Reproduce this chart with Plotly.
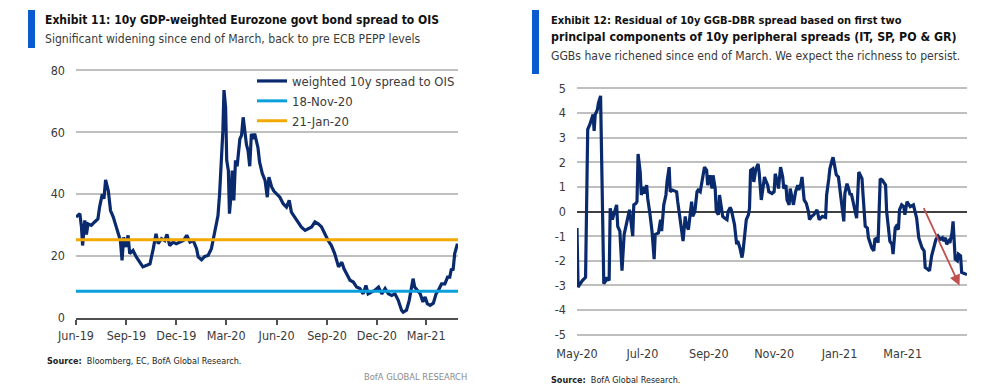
import plotly.graph_objects as go

# ---------------- Exhibit 11 data ----------------
ex11_dates = [
    "2019-06-01", "2019-06-08", "2019-06-11", "2019-06-13", "2019-06-17", "2019-06-20", "2019-06-23", "2019-06-29",
    "2019-07-05", "2019-07-11", "2019-07-14", "2019-07-19", "2019-07-22", "2019-07-25", "2019-07-30", "2019-08-03",
    "2019-08-08", "2019-08-14", "2019-08-19", "2019-08-21", "2019-08-24", "2019-08-27", "2019-08-31", "2019-09-04",
    "2019-09-07", "2019-09-13", "2019-09-19", "2019-09-25", "2019-10-01", "2019-10-08", "2019-10-14", "2019-10-20",
    "2019-10-25", "2019-10-29", "2019-11-04", "2019-11-10", "2019-11-14", "2019-11-19", "2019-11-25", "2019-12-01",
    "2019-12-07", "2019-12-14", "2019-12-20", "2019-12-26", "2020-01-01", "2020-01-07", "2020-01-10", "2020-01-16",
    "2020-01-22", "2020-01-28", "2020-02-03", "2020-02-07", "2020-02-12", "2020-02-15", "2020-02-18", "2020-02-21",
    "2020-02-24", "2020-02-26", "2020-02-29", "2020-03-02", "2020-03-05", "2020-03-07", "2020-03-10", "2020-03-12",
    "2020-03-15", "2020-03-18", "2020-03-21", "2020-03-26", "2020-03-29", "2020-04-01", "2020-04-04", "2020-04-07",
    "2020-04-10", "2020-04-13", "2020-04-16", "2020-04-19", "2020-04-22", "2020-04-25", "2020-04-28", "2020-05-01",
    "2020-05-06", "2020-05-11", "2020-05-15", "2020-05-18", "2020-05-23", "2020-05-27", "2020-06-01", "2020-06-07",
    "2020-06-13", "2020-06-19", "2020-06-24", "2020-06-28", "2020-07-04", "2020-07-10", "2020-07-16", "2020-07-23",
    "2020-07-29", "2020-08-04", "2020-08-10", "2020-08-16", "2020-08-22", "2020-08-28", "2020-09-03", "2020-09-09",
    "2020-09-15", "2020-09-22", "2020-09-28", "2020-10-02", "2020-10-07", "2020-10-13", "2020-10-19", "2020-10-25",
    "2020-10-31", "2020-11-06", "2020-11-11", "2020-11-15", "2020-11-21", "2020-11-27", "2020-12-04", "2020-12-10",
    "2020-12-16", "2020-12-22", "2020-12-28", "2021-01-03", "2021-01-09", "2021-01-15", "2021-01-18", "2021-01-24",
    "2021-01-29", "2021-02-02", "2021-02-05", "2021-02-08", "2021-02-13", "2021-02-18", "2021-02-23", "2021-02-27",
    "2021-03-03", "2021-03-08", "2021-03-14", "2021-03-19", "2021-03-23", "2021-03-29", "2021-04-04", "2021-04-09",
    "2021-04-13", "2021-04-16", "2021-04-19", "2021-04-22", "2021-04-27",
]
ex11_spread = [
    32.6, 33.7, 29.4, 23.4, 31.5, 27.0, 30.4, 29.9,
    31.0, 32.0, 35.8, 40.0, 38.5, 44.6, 41.0, 34.7,
    32.6, 29.4, 26.0, 25.0, 18.6, 26.0, 22.9, 26.7,
    20.8, 21.8, 19.7, 18.0, 16.5, 17.0, 17.5, 22.4,
    27.2, 24.0, 25.6, 25.0, 27.0, 23.4, 24.5, 24.0,
    24.5, 25.0, 26.7, 24.5, 25.0, 22.4, 19.7, 18.8,
    19.9, 20.2, 22.4, 26.0, 30.0, 33.0, 40.0, 48.7,
    60.5, 73.6, 68.0, 50.9, 47.6, 33.7, 40.0, 47.6,
    38.0, 50.9, 49.0, 57.8, 59.0, 64.8, 60.5, 56.0,
    54.0, 49.0, 59.5, 57.8, 59.5, 57.3, 55.0, 50.3,
    46.6, 44.4, 39.0, 45.5, 42.3, 41.0, 40.0, 39.0,
    36.9, 35.8, 38.0, 34.2, 32.6, 31.0, 29.4, 28.3,
    28.8, 29.4, 31.0, 30.4, 29.4, 27.2, 25.0, 23.4,
    20.8, 16.5, 18.0, 15.9, 14.3, 12.2, 11.6, 10.0,
    9.5, 7.8, 10.5, 7.8, 8.4, 8.9, 10.0, 7.8,
    9.5, 7.8, 7.3, 7.8, 5.7, 2.5, 1.9, 2.5,
    5.7, 10.0, 12.7, 10.0, 8.9, 7.8, 5.2, 6.8,
    4.6, 4.1, 4.8, 7.8, 8.9, 11.0, 11.0, 13.2,
    13.2, 15.9, 15.4, 20.8, 24.0,
]
level_18nov20 = 8.6
level_21jan20 = 25.3
ex11_tickvals = ["2019-06-01", "2019-09-01", "2019-12-01", "2020-03-01", "2020-06-01", "2020-09-01",
                 "2020-12-01", "2021-03-01"]
ex11_ticks = ["Jun-19", "Sep-19", "Dec-19", "Mar-20", "Jun-20", "Sep-20", "Dec-20", "Mar-21"]
ex11_yticks = [0, 20, 40, 60, 80]

# ---------------- Exhibit 12 data ----------------
ex12_dates = [
    "2020-05-01", "2020-05-02", "2020-05-03", "2020-05-06", "2020-05-09", "2020-05-11", "2020-05-13", "2020-05-15",
    "2020-05-16", "2020-05-17", "2020-05-18", "2020-05-20", "2020-05-21", "2020-05-23", "2020-05-25", "2020-05-26",
    "2020-05-28", "2020-05-29", "2020-05-31", "2020-06-01", "2020-06-03", "2020-06-05", "2020-06-07", "2020-06-08",
    "2020-06-10", "2020-06-12", "2020-06-14", "2020-06-16", "2020-06-19", "2020-06-20", "2020-06-22", "2020-06-23",
    "2020-06-25", "2020-06-26", "2020-06-27", "2020-06-29", "2020-06-30", "2020-07-02", "2020-07-03", "2020-07-05",
    "2020-07-06", "2020-07-08", "2020-07-10", "2020-07-12", "2020-07-13", "2020-07-16", "2020-07-18", "2020-07-19",
    "2020-07-21", "2020-07-23", "2020-07-24", "2020-07-26", "2020-07-27", "2020-07-29", "2020-07-31", "2020-08-02",
    "2020-08-03", "2020-08-05", "2020-08-06", "2020-08-08", "2020-08-10", "2020-08-11", "2020-08-13", "2020-08-14",
    "2020-08-16", "2020-08-17", "2020-08-19", "2020-08-21", "2020-08-22", "2020-08-24", "2020-08-26", "2020-08-28",
    "2020-08-30", "2020-08-31", "2020-09-02", "2020-09-04", "2020-09-05", "2020-09-07", "2020-09-08", "2020-09-10",
    "2020-09-11", "2020-09-13", "2020-09-14", "2020-09-16", "2020-09-18", "2020-09-19", "2020-09-21", "2020-09-22",
    "2020-09-24", "2020-09-25", "2020-09-27", "2020-09-28", "2020-09-30", "2020-10-02", "2020-10-03", "2020-10-05",
    "2020-10-06", "2020-10-08", "2020-10-09", "2020-10-10", "2020-10-12", "2020-10-13", "2020-10-15", "2020-10-17",
    "2020-10-18", "2020-10-20", "2020-10-21", "2020-10-23", "2020-10-24", "2020-10-26", "2020-10-27", "2020-10-30",
    "2020-11-01", "2020-11-02", "2020-11-04", "2020-11-05", "2020-11-07", "2020-11-09", "2020-11-10", "2020-11-12",
    "2020-11-13", "2020-11-15", "2020-11-16", "2020-11-18", "2020-11-19", "2020-11-21", "2020-11-23", "2020-11-24",
    "2020-11-26", "2020-11-27", "2020-11-29", "2020-12-01", "2020-12-03", "2020-12-04", "2020-12-06", "2020-12-08",
    "2020-12-10", "2020-12-11", "2020-12-13", "2020-12-14", "2020-12-16", "2020-12-19", "2020-12-20", "2020-12-22",
    "2020-12-23", "2020-12-25", "2020-12-26", "2020-12-28", "2020-12-29", "2020-12-31", "2021-01-02", "2021-01-03",
    "2021-01-05", "2021-01-06", "2021-01-08", "2021-01-09", "2021-01-11", "2021-01-12", "2021-01-14", "2021-01-16",
    "2021-01-17", "2021-01-19", "2021-01-20", "2021-01-22", "2021-01-23", "2021-01-25", "2021-01-27", "2021-01-28",
    "2021-01-30", "2021-01-31", "2021-02-02", "2021-02-03", "2021-02-05", "2021-02-06", "2021-02-08", "2021-02-10",
    "2021-02-11", "2021-02-13", "2021-02-14", "2021-02-16", "2021-02-17", "2021-02-19", "2021-02-20", "2021-02-22",
    "2021-02-23", "2021-02-25", "2021-02-26", "2021-02-28", "2021-03-02", "2021-03-03", "2021-03-05", "2021-03-06",
    "2021-03-08", "2021-03-11", "2021-03-14", "2021-03-16", "2021-03-19", "2021-03-21", "2021-03-22", "2021-03-24",
    "2021-03-26", "2021-03-28", "2021-03-30", "2021-04-01", "2021-04-03", "2021-04-05", "2021-04-07", "2021-04-08",
    "2021-04-10", "2021-04-11", "2021-04-13", "2021-04-14", "2021-04-16", "2021-04-17", "2021-04-19", "2021-04-21",
    "2021-04-22", "2021-04-24", "2021-04-25", "2021-04-28", "2021-04-30",
]
ex12_residual = [
    -0.67, -3.07, -3.0, -2.8, -2.67, 3.33, 3.53, 3.87,
    3.93, 3.27, 3.93, 4.13, 4.4, 4.69, 0.0, -2.93,
    -2.8, -2.67, -2.8, 0.13, -0.33, -0.07, 0.27, -0.6,
    -0.8, -2.4, -0.93, -0.53, 0.07, -0.27, -1.0, 0.27,
    0.33, 0.4, 2.33, 1.6, 0.67, 1.0, 0.73, 1.07,
    0.53, -0.07, -0.8, -1.93, -0.93, -0.87, -0.33, -0.8,
    0.27, 0.67, 1.2, 1.8, 0.8, 0.87, 0.83, 0.8,
    0.4, -0.27, -0.6, -1.2, -0.2, -0.53, -0.73, -0.4,
    0.4, -0.2, 0.0, 0.8, 0.87, 0.8, 1.4, 1.8,
    1.67, 1.07, 1.47, 0.93, 1.47, 0.93, 0.0, -0.13,
    0.67, 0.0, -0.2, -0.27, -0.33, 0.0, 0.16, 0.07,
    -0.27, -0.53, -1.33, -1.2, -1.47, -1.87, -1.6, -0.53,
    -0.33, -0.13, 0.13, 1.67, 1.73, 1.2, 1.73, 1.93,
    1.6, 0.47, 0.8, 1.4, 1.27, 1.07, 0.8, 0.73,
    0.8, 1.53, 1.2, 0.93, 1.8, 1.4, 0.93, 1.07,
    0.47, 0.27, 0.93, 0.4, 0.27, 0.8, 1.07, 0.87,
    1.13, 1.4, 0.47, 0.33, 0.0, -0.33, -0.2, -0.13,
    0.03, 0.07, -0.33, -0.27, -0.2, -0.24, 0.67, 1.33,
    1.73, 2.07, 2.2, 1.73, 1.49, 1.4, 0.67, 0.53,
    -0.4, 0.73, 1.13, 1.0, 0.67, 0.73, 0.27, -0.13,
    -0.27, 1.6, 1.53, 1.33, 0.67, -0.6, -0.67, -1.07,
    -1.33, -1.47, -1.6, -1.13, -1.07, -1.27, 1.33, 1.27,
    1.2, 1.07, 0.0, -0.8, -1.2, -1.33, -1.73, -0.67,
    -0.6, -0.73, 0.07, 0.27, 0.2, -0.13, 0.4, 0.33,
    0.2, 0.27, -0.27, -1.07, -1.47, -1.6, -2.27, -2.33,
    -2.4, -1.8, -1.47, -1.13, -1.0, -1.13, -1.07, -1.2,
    -1.07, -1.33, -1.2, -1.27, -0.87, -0.4, -1.93, -2.0,
    -1.73, -1.8, -2.47, -2.53, -2.56,
]
ex12_arrow_start = ("2021-03-20", 0.2)
ex12_arrow_end = ("2021-04-23", -3.0)
ex12_tickvals = ["2020-05-01", "2020-07-01", "2020-09-01", "2020-11-01", "2021-01-01", "2021-03-01"]
ex12_ticks = ["May-20", "Jul-20", "Sep-20", "Nov-20", "Jan-21", "Mar-21"]
ex12_yticks = [5, 4, 3, 2, 1, 0, -1, -2, -3, -4, -5]
ex12_yticklabels = ["5", "4", "3", "2", "1", "0", "-1", "-2", "-3", "-4", "-5"]

NAVY = "#0a2a6e"
LBLUE = "#0b9fdc"
ORANGE = "#f2a900"
GRID = "#bfbfbf"
TXT = "#3a3a3a"
FONT = "Liberation Sans Narrow, DejaVu Sans Condensed, Roboto Condensed, Arial Narrow, sans-serif"

W, H = 1000, 390


def px(x):
    return x / W


def py(y):
    return 1 - y / H


fig = go.Figure()

fig.add_trace(go.Scatter(x=ex11_dates, y=ex11_spread, mode="lines", name="weighted 10y spread to OIS",
                         line=dict(color=NAVY, width=3.2), xaxis="x", yaxis="y", legendrank=1))
fig.add_trace(go.Scatter(x=[ex11_dates[0], "2021-04-28"], y=[level_18nov20, level_18nov20], mode="lines",
                         name="18-Nov-20", line=dict(color=LBLUE, width=3), xaxis="x", yaxis="y", legendrank=2))
fig.add_trace(go.Scatter(x=[ex11_dates[0], "2021-04-28"], y=[level_21jan20, level_21jan20], mode="lines",
                         name="21-Jan-20", line=dict(color=ORANGE, width=3), xaxis="x", yaxis="y", legendrank=3))

fig.add_trace(go.Scatter(x=ex12_dates, y=ex12_residual, mode="lines", showlegend=False,
                         line=dict(color=NAVY, width=3.2), xaxis="x2", yaxis="y2"))

TICKFONT = dict(family=FONT, size=12.5, color=TXT)

fig.update_layout(
    template="none",
    width=W, height=H,
    margin=dict(l=0, r=0, t=0, b=0, pad=0, autoexpand=False),
    paper_bgcolor="white", plot_bgcolor="white",
    font=dict(family=FONT, size=13, color=TXT),
    showlegend=True,
    legend=dict(x=px(252), y=py(66), xanchor="left", yanchor="top", bgcolor="rgba(0,0,0,0)",
                borderwidth=0, font=dict(family=FONT, size=13, color=TXT), tracegroupgap=0, itemwidth=30),
    xaxis=dict(domain=[px(76), px(458)], type="date", range=["2019-06-01", "2021-04-28"],
               tickmode="array", tickvals=ex11_tickvals, ticktext=ex11_ticks, tickangle=0,
               showgrid=False, zeroline=False, showline=True, linecolor="#505050", linewidth=1.5,
               ticks="outside", ticklen=5, tickwidth=1.5, tickcolor="#505050",
               tickfont=TICKFONT, anchor="y", automargin=False),
    yaxis=dict(domain=[py(318), py(69)], range=[0, 80.4], tickmode="array", tickvals=ex11_yticks,
               showgrid=True, gridcolor=GRID, gridwidth=1.5, zeroline=False, showline=False,
               ticks="", ticklabelstandoff=10, tickfont=TICKFONT, anchor="x", automargin=False),
    xaxis2=dict(domain=[px(577), px(967)], type="date", range=["2020-05-01", "2021-04-30"],
                tickmode="array", tickvals=ex12_tickvals, ticktext=ex12_ticks, tickangle=0,
                showgrid=False, zeroline=False, showline=False, ticks="", ticklabelstandoff=8,
                tickfont=TICKFONT, anchor="y2", automargin=False),
    yaxis2=dict(domain=[py(336), py(87)], range=[-5.05, 5.05], tickmode="array",
                tickvals=ex12_yticks, ticktext=ex12_yticklabels,
                showgrid=True, gridcolor=GRID, gridwidth=1.5,
                zeroline=True, zerolinecolor="#404040", zerolinewidth=1.5, showline=False,
                ticks="", ticklabelstandoff=10, tickfont=TICKFONT, anchor="x2", automargin=False),
)

# Blue title bars
fig.add_shape(type="rect", xref="paper", yref="paper", x0=px(28), x1=px(35), y0=py(48), y1=py(10),
              fillcolor="#0a5ad0", line=dict(width=0))
fig.add_shape(type="rect", xref="paper", yref="paper", x0=px(532), x1=px(539), y0=py(74), y1=py(10),
              fillcolor="#0a5ad0", line=dict(width=0))

TITLE_L = dict(family=FONT, size=12, color="#111111")
TITLE_R1 = dict(family=FONT, size=11, color="#111111")
TITLE_R2 = dict(family=FONT, size=12.3, color="#111111")
SUB = dict(family=FONT, size=12.1, color=TXT)
SRC = dict(family=FONT, size=9, color="#222222")

ann = [
    dict(text="<b>Exhibit 11: 10y GDP-weighted Eurozone govt bond spread to OIS</b>", x=px(43), y=py(20),
         font=TITLE_L),
    dict(text="Significant widening since end of March, back to pre ECB PEPP levels", x=px(43), y=py(39), font=SUB),
    dict(text="<b>Exhibit 12: Residual of 10y GGB-DBR spread based on first two</b>", x=px(549), y=py(20),
         font=TITLE_R1),
    dict(text="<b>principal components of 10y peripheral spreads (IT, SP, PO &amp; GR)</b>", x=px(549), y=py(37),
         font=TITLE_R2),
    dict(text="GGBs have richened since end of March. We expect the richness to persist.", x=px(549), y=py(56),
         font=SUB),
    dict(text="<b>Source:</b>  Bloomberg, EC, BofA Global Research.", x=px(45), y=py(361), font=SRC),
    dict(text="BofA GLOBAL RESEARCH", x=px(362), y=py(376), font=dict(family=FONT, size=9.3, color="#8a8a8a")),
    dict(text="<b>Source:</b>  BofA Global Research.", x=px(549), y=py(380), font=SRC),
]
for a in ann:
    a.update(xref="paper", yref="paper", showarrow=False, align="left", xanchor="left", yanchor="middle")
    fig.add_annotation(**a)

fig.add_annotation(x=ex12_arrow_end[0], y=ex12_arrow_end[1], ax=ex12_arrow_start[0], ay=ex12_arrow_start[1],
                   xref="x2", yref="y2", axref="x2", ayref="y2", showarrow=True, text="",
                   arrowhead=2, arrowsize=1.2, arrowwidth=1.8, arrowcolor="#c0504d")

fig.write_html("out.html", config={"displayModeBar": False},
               post_script="document.body.style.margin='0';document.body.style.overflow='hidden';")
